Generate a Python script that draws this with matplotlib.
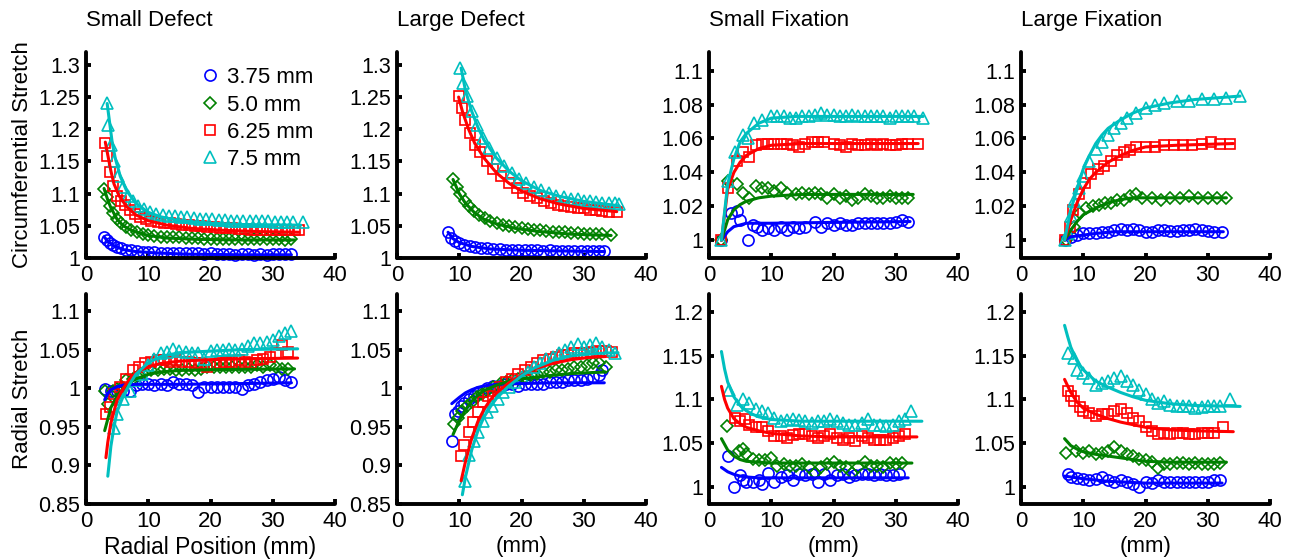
import matplotlib
matplotlib.use("Agg")
import matplotlib.pyplot as plt
from matplotlib.ticker import FuncFormatter

plt.rcParams['font.family'] = ['Liberation Sans', 'DejaVu Sans']

# ---------------- labels / styles ----------------
sizes = ["3.75 mm", "5.0 mm", "6.25 mm", "7.5 mm"]
titles = ["Small Defect", "Large Defect", "Small Fixation", "Large Fixation"]
colors = [(0, 0, 1), (0, 0.5, 0), (1, 0, 0), (0, 0.75, 0.75)]
markers = ['o', 'D', 's', '^']
msizes = [8.0, 6.3, 7.5, 8.0]

# ================= Small Defect, circumferential =================
sd_c_b_x = [2.9, 3.3, 3.8, 4.4, 5.0, 5.7, 6.5, 7.3, 8.2, 9.1, 10, 11, 12, 13, 14, 15, 16, 17, 18, 19, 20, 21, 22, 23, 24, 25, 26, 27, 28, 29, 30, 31, 32, 33]
sd_c_b_y = [1.033, 1.028, 1.024, 1.020, 1.017, 1.015, 1.013, 1.012, 1.011, 1.010, 1.009, 1.009, 1.008, 1.008, 1.008, 1.007, 1.008, 1.007, 1.007, 1.006, 1.007, 1.006, 1.006, 1.006, 1.005, 1.006, 1.006, 1.005, 1.006, 1.005, 1.006, 1.006, 1.006, 1.006]
sd_c_g_x = [2.9, 3.3, 3.8, 4.4, 5.0, 5.7, 6.5, 7.3, 8.2, 9.1, 10, 11, 12, 13, 14, 15, 16, 17, 18, 19, 20, 21, 22, 23, 24, 25, 26, 27, 28, 29, 30, 31, 32, 33]
sd_c_g_y = [1.107, 1.094, 1.081, 1.070, 1.061, 1.054, 1.048, 1.044, 1.040, 1.037, 1.035, 1.034, 1.033, 1.033, 1.032, 1.032, 1.031, 1.031, 1.031, 1.030, 1.030, 1.030, 1.030, 1.030, 1.029, 1.030, 1.029, 1.029, 1.029, 1.029, 1.029, 1.029, 1.028, 1.029]
sd_c_r_x = [3.1, 3.4, 3.8, 4.3, 5.0, 5.6, 6.2, 7, 7.8, 8.7, 9.6, 10.5, 11.5, 12.5, 13.5, 14.5, 15.5, 16.5, 17.5, 18.5, 19.5, 20.5, 21.5, 22.5, 23.5, 24.5, 25.5, 26.5, 27.5, 28.5, 29.5, 30.5, 31.5, 32.5, 33.5, 34.2]
sd_c_r_y = [1.179, 1.158, 1.133, 1.112, 1.097, 1.088, 1.082, 1.074, 1.068, 1.064, 1.061, 1.058, 1.056, 1.055, 1.054, 1.053, 1.052, 1.051, 1.050, 1.049, 1.048, 1.048, 1.047, 1.047, 1.046, 1.045, 1.045, 1.044, 1.044, 1.044, 1.043, 1.043, 1.043, 1.043, 1.043, 1.043]
sd_c_c_x = [3.4, 3.6, 4.0, 4.5, 5.2, 5.9, 6.7, 7.5, 8.4, 9.3, 10.3, 11.3, 12.3, 13.3, 14.3, 15.3, 16.3, 17.3, 18.3, 19.3, 20.3, 21.3, 22.3, 23.3, 24.3, 25.3, 26.3, 27.3, 28.3, 29.3, 30.3, 31.3, 32.3, 33.3, 34.8]
sd_c_c_y = [1.241, 1.207, 1.176, 1.151, 1.127, 1.110, 1.097, 1.088, 1.081, 1.076, 1.072, 1.069, 1.067, 1.066, 1.065, 1.064, 1.063, 1.062, 1.061, 1.060, 1.060, 1.059, 1.059, 1.058, 1.058, 1.058, 1.057, 1.057, 1.057, 1.057, 1.056, 1.056, 1.056, 1.056, 1.056]
sd_c_b_fx = [2.9, 3.5, 4.5, 6, 8, 11, 16, 25, 33]
sd_c_b_fy = [1.033, 1.026, 1.019, 1.013, 1.010, 1.008, 1.006, 1.005, 1.005]
sd_c_g_fx = [2.9, 3.5, 4, 5, 6, 7.5, 10, 13, 18, 25, 33.5]
sd_c_g_fy = [1.108, 1.090, 1.078, 1.060, 1.050, 1.042, 1.035, 1.031, 1.029, 1.028, 1.028]
sd_c_r_fx = [3.1, 3.6, 4, 4.5, 5.3, 6.5, 8, 10, 13, 17, 22, 28, 34.2]
sd_c_r_fy = [1.180, 1.155, 1.135, 1.115, 1.097, 1.080, 1.067, 1.058, 1.051, 1.046, 1.043, 1.041, 1.040]
sd_c_c_fx = [3.4, 3.8, 4.2, 4.7, 5.5, 6.5, 8, 10, 12, 15, 20, 25, 34.5]
sd_c_c_fy = [1.240, 1.210, 1.180, 1.155, 1.127, 1.105, 1.085, 1.071, 1.064, 1.058, 1.054, 1.052, 1.051]

# ================= Large Defect, circumferential =================
ld_c_b_x = [8.2, 8.7, 9.3, 10, 10.8, 11.7, 12.6, 13.5, 14.5, 15.5, 16.5, 17.5, 18.5, 19.5, 20.5, 21.5, 22.5, 23.5, 24.5, 25.5, 26.5, 27.5, 28.5, 29.5, 30.5, 31.5, 32.5, 33.3]
ld_c_b_y = [1.040, 1.031, 1.027, 1.023, 1.020, 1.018, 1.017, 1.016, 1.015, 1.014, 1.014, 1.013, 1.013, 1.012, 1.012, 1.012, 1.012, 1.011, 1.012, 1.011, 1.011, 1.011, 1.011, 1.011, 1.011, 1.011, 1.011, 1.011]
ld_c_g_x = [9.0, 9.6, 10.2, 10.9, 11.6, 12.4, 13.2, 14.1, 15, 16, 17, 18, 19, 20, 21, 22, 23, 24, 25, 26, 27, 28, 29, 30, 31, 32, 33, 34.4]
ld_c_g_y = [1.122, 1.110, 1.099, 1.089, 1.080, 1.073, 1.067, 1.062, 1.058, 1.055, 1.052, 1.050, 1.048, 1.047, 1.045, 1.044, 1.043, 1.042, 1.041, 1.040, 1.040, 1.039, 1.039, 1.038, 1.038, 1.037, 1.037, 1.035]
ld_c_r_x = [9.9, 10.4, 11, 11.8, 12.6, 13.4, 14.4, 15.5, 16.7, 18, 19.2, 20.3, 21.4, 22.5, 23.6, 24.7, 25.8, 26.9, 28, 29, 30, 31, 32, 33, 34, 35.3]
ld_c_r_y = [1.251, 1.233, 1.215, 1.194, 1.176, 1.164, 1.151, 1.138, 1.128, 1.117, 1.108, 1.101, 1.097, 1.093, 1.089, 1.086, 1.083, 1.081, 1.079, 1.078, 1.077, 1.075, 1.074, 1.073, 1.072, 1.071]
ld_c_c_x = [10.2, 10.6, 11.2, 12, 12.8, 13.8, 14.8, 16, 17.2, 18.4, 19.6, 20.8, 22, 23.2, 24.4, 25.6, 26.8, 28, 29, 30, 31, 32, 33, 34, 35, 35.7]
ld_c_c_y = [1.295, 1.272, 1.251, 1.228, 1.207, 1.187, 1.171, 1.156, 1.143, 1.132, 1.123, 1.116, 1.110, 1.105, 1.101, 1.097, 1.094, 1.092, 1.091, 1.089, 1.088, 1.087, 1.086, 1.085, 1.085, 1.084]
ld_c_b_fx = [8.2, 9, 10, 12, 15, 20, 26, 33.3]
ld_c_b_fy = [1.040, 1.030, 1.024, 1.018, 1.014, 1.012, 1.011, 1.010]
ld_c_g_fx = [9, 10, 11, 12.5, 14, 16, 19, 23, 28, 34.4]
ld_c_g_fy = [1.122, 1.100, 1.085, 1.070, 1.060, 1.053, 1.046, 1.041, 1.037, 1.035]
ld_c_r_fx = [9.9, 10.5, 11.5, 12.5, 14, 16, 18, 20, 23, 26, 30, 35.3]
ld_c_r_fy = [1.250, 1.228, 1.200, 1.178, 1.155, 1.132, 1.116, 1.104, 1.092, 1.084, 1.077, 1.072]
ld_c_c_fx = [10.3, 11, 12, 13, 14, 16, 18, 20, 23, 26, 30, 35.7]
ld_c_c_fy = [1.295, 1.260, 1.228, 1.203, 1.183, 1.155, 1.135, 1.120, 1.105, 1.096, 1.088, 1.081]

# ================= Small Fixation, circumferential =================
sf_c_b_x = [2, 3.5, 4.5, 5, 6.3, 7, 7.7, 8.5, 9.5, 10.5, 11.5, 12.5, 13.5, 14.5, 15.5, 17, 18, 19, 20, 21, 22, 23, 24, 25, 26, 27, 28, 29, 30, 31, 32]
sf_c_b_y = [1.000, 1.016, 1.017, 1.012, 1.000, 1.009, 1.008, 1.006, 1.007, 1.006, 1.008, 1.006, 1.008, 1.007, 1.008, 1.011, 1.008, 1.010, 1.009, 1.010, 1.009, 1.009, 1.010, 1.010, 1.010, 1.010, 1.010, 1.010, 1.011, 1.012, 1.011]
sf_c_g_x = [2, 3, 4.5, 5.5, 6.5, 7.5, 8.5, 9.5, 10.5, 11.5, 12.5, 14, 15, 16, 17, 18, 19, 20, 21, 22, 23, 24, 25, 26, 27, 28, 29, 30, 31, 32]
sf_c_g_y = [1.000, 1.035, 1.033, 1.028, 1.025, 1.032, 1.031, 1.031, 1.029, 1.031, 1.028, 1.027, 1.028, 1.027, 1.028, 1.027, 1.025, 1.027, 1.025, 1.026, 1.024, 1.025, 1.027, 1.026, 1.025, 1.025, 1.026, 1.025, 1.025, 1.025]
sf_c_r_x = [2, 3, 4.5, 5.5, 6.5, 7.5, 8.5, 9.5, 10.5, 11.5, 12.5, 13.5, 14.5, 15.5, 16.5, 17.5, 18.5, 20, 21, 22, 23, 24, 25, 26, 27, 28, 29, 30, 31, 32, 33.5]
sf_c_r_y = [1.000, 1.031, 1.047, 1.052, 1.049, 1.056, 1.057, 1.057, 1.057, 1.057, 1.057, 1.056, 1.055, 1.057, 1.058, 1.058, 1.058, 1.057, 1.056, 1.055, 1.057, 1.056, 1.056, 1.057, 1.056, 1.057, 1.056, 1.056, 1.057, 1.057, 1.057]
sf_c_c_x = [2, 3, 4.2, 5.5, 6.2, 7.3, 8.5, 10, 11, 12, 13, 14, 15, 16, 17, 18, 19, 20, 21, 22, 23, 24, 25, 26, 27, 28, 29, 30, 31, 32, 33, 34.4]
sf_c_c_y = [1.000, 1.035, 1.052, 1.062, 1.060, 1.069, 1.071, 1.073, 1.073, 1.073, 1.072, 1.072, 1.073, 1.073, 1.074, 1.075, 1.074, 1.074, 1.073, 1.073, 1.074, 1.073, 1.073, 1.073, 1.073, 1.073, 1.072, 1.073, 1.073, 1.073, 1.073, 1.072]
sf_c_b_fx = [2, 3, 4, 5, 6, 8, 10, 20, 32.3]
sf_c_b_fy = [1.000, 1.005, 1.008, 1.009, 1.010, 1.010, 1.010, 1.0105, 1.011]
sf_c_g_fx = [2, 3, 4, 5, 6, 8, 10, 15, 32.8]
sf_c_g_fy = [1.000, 1.012, 1.018, 1.021, 1.023, 1.025, 1.026, 1.027, 1.027]
sf_c_r_fx = [2, 3, 4, 5, 6, 8, 10, 15, 33.6]
sf_c_r_fy = [1.000, 1.030, 1.040, 1.046, 1.050, 1.054, 1.056, 1.057, 1.057]
sf_c_c_fx = [2, 3, 4, 5, 6, 8, 10, 14, 34.4]
sf_c_c_fy = [1.000, 1.033, 1.048, 1.058, 1.063, 1.069, 1.072, 1.073, 1.073]

# ================= Large Fixation, circumferential =================
lf_c_b_x = [7, 8, 9, 10, 11, 12, 13, 14, 15, 16, 17, 18, 19, 20, 21, 22, 23, 24, 25, 26, 27, 28, 29, 30, 31, 32.3]
lf_c_b_y = [1.000, 1.002, 1.003, 1.004, 1.004, 1.0045, 1.005, 1.005, 1.006, 1.0065, 1.006, 1.0065, 1.006, 1.005, 1.005, 1.006, 1.006, 1.0055, 1.0055, 1.006, 1.006, 1.0065, 1.006, 1.0055, 1.005, 1.005]
lf_c_g_x = [7.2, 8.5, 9.5, 10.5, 11.5, 12.5, 13.5, 14.5, 15.5, 16.5, 17.5, 18.5, 19.5, 21, 22.5, 24, 25.5, 27, 28.5, 30, 31.5, 33]
lf_c_g_y = [1.000, 1.008, 1.016, 1.019, 1.020, 1.021, 1.022, 1.022, 1.024, 1.024, 1.026, 1.027, 1.025, 1.025, 1.024, 1.025, 1.025, 1.026, 1.025, 1.025, 1.025, 1.025]
lf_c_r_x = [7, 7.8, 8.3, 9.3, 10.3, 11.3, 12.3, 13.3, 14.5, 15.5, 16.5, 17.5, 18.5, 20, 21.5, 23, 24.5, 26, 27.5, 29, 30.5, 32, 33.5]
lf_c_r_y = [1.000, 1.008, 1.018, 1.027, 1.034, 1.039, 1.042, 1.044, 1.047, 1.050, 1.052, 1.053, 1.055, 1.055, 1.055, 1.056, 1.056, 1.056, 1.056, 1.057, 1.058, 1.057, 1.057]
lf_c_c_x = [7, 7.5, 8, 8.5, 9.3, 10, 11, 12, 13, 14, 15, 16, 17, 18.5, 20, 21.5, 23, 25, 27, 29, 31, 33, 35.2]
lf_c_c_y = [1.000, 1.004, 1.014, 1.023, 1.031, 1.038, 1.047, 1.054, 1.058, 1.062, 1.066, 1.069, 1.072, 1.075, 1.078, 1.080, 1.081, 1.082, 1.082, 1.083, 1.083, 1.084, 1.085]
lf_c_b_fx = [7, 8, 10, 12, 15, 20, 32.5]
lf_c_b_fy = [1.000, 1.002, 1.003, 1.004, 1.005, 1.005, 1.005]
lf_c_g_fx = [7, 8, 9, 10, 12, 14, 16, 18, 20, 33]
lf_c_g_fy = [1.000, 1.006, 1.011, 1.015, 1.019, 1.022, 1.024, 1.025, 1.025, 1.025]
lf_c_r_fx = [7, 8, 9, 10, 11, 12, 14, 16, 18, 20, 25, 34.1]
lf_c_r_fy = [1.000, 1.012, 1.022, 1.030, 1.036, 1.040, 1.046, 1.050, 1.053, 1.055, 1.056, 1.057]
lf_c_c_fx = [7, 8, 9, 10, 11, 12, 13, 14, 16, 18, 20, 24, 28, 35.2]
lf_c_c_fy = [1.000, 1.018, 1.030, 1.042, 1.050, 1.057, 1.062, 1.066, 1.071, 1.075, 1.078, 1.081, 1.083, 1.085]

# ================= Small Defect, radial =================
sd_r_b_x = [3, 4, 5, 6, 7, 8, 9, 10, 11, 12, 13, 14, 15, 16, 17, 18, 19, 20, 21, 22, 23, 24, 25, 26, 27, 28, 29, 30, 31, 32, 33]
sd_r_b_y = [0.999, 0.997, 0.997, 0.997, 0.997, 1.004, 1.006, 1.005, 1.004, 1.005, 1.004, 1.008, 1.006, 1.005, 1.004, 0.995, 1.002, 1.001, 1.001, 1.002, 1.002, 1.001, 0.999, 1.004, 1.006, 1.008, 1.010, 1.012, 1.014, 1.010, 1.008]
sd_r_g_x = [3, 3.5, 4.3, 5, 5.8, 6.5, 7.5, 8.5, 9.5, 10.5, 11.5, 12.5, 13.5, 14.5, 15.5, 16.5, 17.5, 18.5, 19.5, 20.5, 21.5, 22.5, 23.5, 24.5, 25.5, 26.5, 27.5, 28.5, 29.5, 30.5, 31.5, 32.5]
sd_r_g_y = [0.997, 0.980, 0.997, 0.999, 1.001, 1.010, 1.012, 1.017, 1.021, 1.023, 1.024, 1.025, 1.025, 1.024, 1.024, 1.025, 1.024, 1.025, 1.027, 1.027, 1.027, 1.027, 1.027, 1.028, 1.027, 1.027, 1.030, 1.028, 1.030, 1.027, 1.025, 1.025]
sd_r_r_x = [3.2, 3.8, 4.5, 5.5, 6.5, 7.5, 8.5, 9.5, 10.5, 11.5, 12.5, 13.5, 14.5, 15.5, 16.5, 17.5, 18.5, 19.5, 20.5, 21.5, 22.5, 23.5, 24.5, 25.5, 26.5, 27.5, 28.5, 29.5, 30.5, 31.5, 32.5]
sd_r_r_y = [0.967, 0.975, 0.993, 1.001, 1.012, 1.023, 1.027, 1.032, 1.034, 1.036, 1.036, 1.034, 1.036, 1.034, 1.034, 1.033, 1.032, 1.027, 1.030, 1.032, 1.034, 1.034, 1.036, 1.034, 1.032, 1.036, 1.038, 1.041, 1.045, 1.056, 1.047]
sd_r_c_x = [4.5, 5, 6, 7, 8, 9, 10, 11, 12, 13, 14, 15, 16, 17, 18, 19, 20, 21, 22, 23, 24, 25, 26, 27, 28, 29, 30, 31, 32, 33]
sd_r_c_y = [0.949, 0.967, 0.986, 0.997, 1.010, 1.019, 1.030, 1.038, 1.045, 1.047, 1.051, 1.048, 1.047, 1.046, 1.045, 1.038, 1.048, 1.049, 1.050, 1.051, 1.049, 1.051, 1.054, 1.058, 1.058, 1.060, 1.062, 1.067, 1.071, 1.074]
sd_r_b_fx = [3, 3.5, 4, 5, 6, 8, 15, 25, 33]
sd_r_b_fy = [0.985, 0.993, 0.998, 1.002, 1.004, 1.005, 1.005, 1.006, 1.007]
sd_r_g_fx = [3, 3.5, 4, 5, 6, 7, 8, 10, 12, 15, 20, 33.5]
sd_r_g_fy = [0.945, 0.960, 0.975, 0.990, 1.000, 1.007, 1.012, 1.018, 1.021, 1.023, 1.024, 1.025]
sd_r_r_fx = [3.2, 3.5, 4, 5, 6, 7, 8, 10, 12, 15, 20, 25, 34]
sd_r_r_fy = [0.910, 0.930, 0.955, 0.985, 1.000, 1.012, 1.020, 1.028, 1.032, 1.035, 1.037, 1.038, 1.039]
sd_r_c_fx = [3.5, 4, 4.5, 5, 6, 7, 8, 10, 12, 15, 20, 25, 34]
sd_r_c_fy = [0.886, 0.925, 0.950, 0.970, 0.990, 1.005, 1.018, 1.033, 1.041, 1.046, 1.048, 1.050, 1.051]

# ================= Large Defect, radial =================
ld_r_b_x = [8.8, 9.3, 9.8, 10.3, 10.8, 11.5, 12.3, 13, 13.8, 14.5, 15.5, 16.5, 17.5, 18.5, 19.5, 20.5, 21.5, 22.5, 23.5, 24.5, 25.5, 26.5, 27.5, 28.5, 29.5, 30.5, 31.5, 32.5, 33]
ld_r_b_y = [0.932, 0.966, 0.971, 0.977, 0.981, 0.986, 0.990, 0.995, 0.997, 1.000, 1.003, 1.003, 1.005, 1.006, 1.003, 1.006, 1.006, 1.005, 1.006, 1.008, 1.008, 1.008, 1.010, 1.010, 1.011, 1.012, 1.014, 1.017, 1.023]
ld_r_g_x = [9.2, 9.8, 10.5, 11.2, 12, 12.8, 13.6, 14.5, 15.5, 16.5, 17.5, 18.5, 19.5, 20.5, 21.5, 22.5, 23.5, 24.5, 25.5, 26.5, 27.5, 28.5, 29.5, 30.5, 31.5, 32.5, 33.5]
ld_r_g_y = [0.953, 0.962, 0.971, 0.977, 0.982, 0.988, 0.993, 0.997, 1.001, 1.006, 1.008, 1.010, 1.012, 1.014, 1.017, 1.019, 1.021, 1.021, 1.023, 1.024, 1.025, 1.027, 1.028, 1.030, 1.032, 1.032, 1.027]
ld_r_r_x = [10.3, 10.8, 11.5, 12.2, 13, 13.8, 14.6, 15.5, 16.5, 17.5, 18.5, 19.5, 20.5, 21.5, 22.5, 23.5, 24.5, 25.5, 26.5, 27.5, 28.5, 29.5, 30.5, 31.5, 32.5, 33.5, 34.5]
ld_r_r_y = [0.912, 0.927, 0.943, 0.956, 0.969, 0.982, 0.990, 0.997, 1.001, 1.008, 1.012, 1.019, 1.023, 1.027, 1.032, 1.036, 1.038, 1.040, 1.043, 1.043, 1.045, 1.046, 1.046, 1.047, 1.048, 1.048, 1.047]
ld_r_c_x = [11, 11.5, 12.3, 13, 13.8, 14.5, 15.3, 16.2, 17, 18, 19, 20, 21, 22, 23, 24, 25, 26, 27, 28, 29, 30, 31, 32, 33, 34, 35]
ld_r_c_y = [0.880, 0.914, 0.932, 0.943, 0.958, 0.969, 0.977, 0.986, 0.995, 1.001, 1.008, 1.014, 1.021, 1.027, 1.032, 1.038, 1.041, 1.046, 1.049, 1.053, 1.057, 1.053, 1.056, 1.058, 1.053, 1.049, 1.045]
ld_r_b_fx = [8.8, 10, 11, 12, 13, 14, 16, 20, 25, 33.3]
ld_r_b_fy = [0.980, 0.988, 0.994, 0.998, 1.001, 1.003, 1.005, 1.006, 1.007, 1.007]
ld_r_g_fx = [9, 10, 11, 12, 13, 14, 16, 18, 20, 24, 28, 33.5]
ld_r_g_fy = [0.940, 0.958, 0.972, 0.983, 0.991, 0.997, 1.004, 1.009, 1.012, 1.016, 1.019, 1.021]
ld_r_r_fx = [10.3, 11, 12, 13, 14, 15, 16, 18, 20, 22, 25, 28, 31, 33.5]
ld_r_r_fy = [0.880, 0.905, 0.935, 0.957, 0.973, 0.985, 0.994, 1.007, 1.017, 1.025, 1.032, 1.037, 1.040, 1.041]
ld_r_c_fx = [10.5, 11, 12, 13, 14, 15, 16, 18, 20, 22, 25, 28, 32, 35.5]
ld_r_c_fy = [0.862, 0.885, 0.920, 0.945, 0.963, 0.976, 0.987, 1.003, 1.016, 1.026, 1.036, 1.042, 1.045, 1.046]

# ================= Small Fixation, radial =================
sf_r_b_x = [3, 4, 5, 5.5, 6, 7, 8, 8.5, 9.5, 10.5, 11.5, 12.5, 13.5, 14.5, 15.5, 16.5, 17.5, 18.5, 19.5, 20.5, 21.5, 22.5, 23.5, 24.5, 25.5, 26.5, 27.5, 28.5, 29.5, 30.5]
sf_r_b_y = [1.035, 0.999, 1.013, 1.007, 1.005, 1.005, 1.007, 1.003, 1.016, 1.005, 1.011, 1.013, 1.007, 1.014, 1.013, 1.014, 1.005, 1.014, 1.007, 1.013, 1.014, 1.011, 1.013, 1.014, 1.014, 1.013, 1.014, 1.013, 1.013, 1.014]
sf_r_g_x = [2.9, 4.8, 5.5, 6, 7, 8, 9, 10, 11, 12, 13, 14, 15, 16, 17, 18, 19, 20, 21, 22, 23, 24, 25, 26, 27, 28, 29, 30, 31]
sf_r_g_y = [1.070, 1.041, 1.043, 1.037, 1.032, 1.030, 1.030, 1.033, 1.024, 1.026, 1.024, 1.024, 1.026, 1.022, 1.016, 1.022, 1.026, 1.028, 1.024, 1.022, 1.016, 1.022, 1.028, 1.024, 1.024, 1.022, 1.027, 1.026, 1.027]
sf_r_r_x = [4.2, 5, 5.8, 6.5, 7.5, 8.5, 9.5, 10.5, 11.5, 12.5, 13.5, 14.5, 15.5, 16.5, 17.5, 18.5, 19.5, 20.5, 21.5, 22.5, 23.5, 24.5, 25.5, 26.5, 27.5, 28.5, 29.5, 30.5, 31.5]
sf_r_r_y = [1.079, 1.075, 1.077, 1.071, 1.068, 1.068, 1.064, 1.058, 1.058, 1.056, 1.059, 1.060, 1.060, 1.058, 1.056, 1.058, 1.060, 1.056, 1.054, 1.056, 1.052, 1.058, 1.056, 1.053, 1.053, 1.054, 1.056, 1.058, 1.060]
sf_r_c_x = [3.2, 4.5, 5.5, 6.5, 7.5, 8.5, 9.5, 10.5, 11.5, 12.5, 13.5, 14.5, 15.5, 16.5, 17.5, 18.5, 19.5, 20.5, 21.5, 22.5, 23.5, 24.5, 25.5, 26.5, 27.5, 28.5, 29.5, 30.5, 31.5, 32.4]
sf_r_c_y = [1.111, 1.094, 1.100, 1.096, 1.089, 1.087, 1.085, 1.079, 1.075, 1.076, 1.077, 1.076, 1.075, 1.073, 1.075, 1.075, 1.077, 1.075, 1.073, 1.071, 1.071, 1.073, 1.077, 1.071, 1.071, 1.070, 1.071, 1.075, 1.077, 1.087]
sf_r_b_fx = [2, 3, 4, 5, 6, 8, 15, 32]
sf_r_b_fy = [1.022, 1.017, 1.014, 1.012, 1.011, 1.010, 1.010, 1.010]
sf_r_g_fx = [2, 3, 4, 5, 6, 8, 10, 20, 32.6]
sf_r_g_fy = [1.055, 1.042, 1.035, 1.031, 1.029, 1.028, 1.027, 1.027, 1.027]
sf_r_r_fx = [2, 2.5, 3, 4, 5, 6, 8, 10, 15, 20, 33.4]
sf_r_r_fy = [1.115, 1.100, 1.090, 1.078, 1.072, 1.068, 1.064, 1.061, 1.058, 1.057, 1.057]
sf_r_c_fx = [2, 2.5, 3, 4, 5, 6, 7, 8, 10, 15, 20, 34.2]
sf_r_c_fy = [1.155, 1.135, 1.120, 1.103, 1.093, 1.087, 1.083, 1.080, 1.077, 1.075, 1.075, 1.075]

# ================= Large Fixation, radial =================
lf_r_b_x = [7.5, 8, 9, 10, 11, 12, 13, 14, 15, 16, 17, 18, 19, 20, 21, 22, 23, 24, 25, 26, 27, 28, 29, 30, 31, 32]
lf_r_b_y = [1.015, 1.011, 1.010, 1.009, 1.008, 1.009, 1.011, 1.007, 1.005, 1.007, 1.005, 1.003, 0.999, 1.005, 1.004, 1.007, 1.005, 1.005, 1.005, 1.005, 1.005, 1.005, 1.005, 1.005, 1.007, 1.007]
lf_r_g_x = [7.3, 8.9, 10, 11, 12, 13, 14, 15, 16, 17, 18, 19, 20, 21, 22, 23, 24, 25, 26, 27, 28, 29, 30, 31, 32]
lf_r_g_y = [1.038, 1.041, 1.039, 1.041, 1.037, 1.039, 1.041, 1.045, 1.041, 1.037, 1.035, 1.032, 1.030, 1.028, 1.021, 1.026, 1.026, 1.027, 1.027, 1.026, 1.027, 1.026, 1.026, 1.026, 1.027]
lf_r_r_x = [7.5, 8, 8.5, 9.5, 10, 11, 12, 13, 14, 15, 16, 17, 18, 19, 20, 21, 22, 23, 24, 25, 26, 27, 28, 29, 30, 31, 32.5]
lf_r_r_y = [1.110, 1.104, 1.098, 1.091, 1.087, 1.085, 1.081, 1.083, 1.083, 1.087, 1.089, 1.085, 1.079, 1.075, 1.068, 1.064, 1.060, 1.062, 1.060, 1.061, 1.061, 1.060, 1.060, 1.061, 1.062, 1.062, 1.068]
lf_r_c_x = [7.5, 8.5, 9, 10, 11, 12, 13, 14, 15, 16, 17, 18, 19, 20, 21, 22, 23, 24, 25, 26, 27, 28, 29, 30, 31, 32, 33.5]
lf_r_c_y = [1.153, 1.148, 1.134, 1.130, 1.125, 1.117, 1.119, 1.121, 1.125, 1.127, 1.121, 1.117, 1.111, 1.106, 1.100, 1.096, 1.098, 1.094, 1.092, 1.092, 1.092, 1.090, 1.091, 1.093, 1.093, 1.093, 1.100]
lf_r_b_fx = [7, 10, 14, 20, 32.3]
lf_r_b_fy = [1.012, 1.009, 1.006, 1.004, 1.004]
lf_r_g_fx = [7, 8, 9, 10, 12, 14, 16, 18, 20, 24, 33]
lf_r_g_fy = [1.055, 1.047, 1.043, 1.040, 1.037, 1.035, 1.033, 1.031, 1.029, 1.028, 1.028]
lf_r_r_fx = [7, 8, 9, 10, 12, 14, 16, 18, 20, 24, 28, 34.1]
lf_r_r_fy = [1.123, 1.108, 1.097, 1.090, 1.083, 1.078, 1.074, 1.071, 1.068, 1.065, 1.064, 1.063]
lf_r_c_fx = [7, 7.5, 8, 9, 10, 12, 14, 16, 18, 20, 24, 28, 35.2]
lf_r_c_fy = [1.185, 1.172, 1.160, 1.144, 1.134, 1.121, 1.114, 1.108, 1.103, 1.099, 1.095, 1.093, 1.092]

# axis settings per row
circ_ticks_defect = [1, 1.05, 1.1, 1.15, 1.2, 1.25, 1.3]
circ_ticks_fix = [1, 1.02, 1.04, 1.06, 1.08, 1.1]
rad_ticks_defect = [0.85, 0.9, 0.95, 1, 1.05, 1.1]
rad_ticks_fix = [1, 1.05, 1.1, 1.15, 1.2]
x_ticks = [0, 10, 20, 30, 40]

panels = [
    [(sd_c_b_x, sd_c_b_y, sd_c_b_fx, sd_c_b_fy), (sd_c_g_x, sd_c_g_y, sd_c_g_fx, sd_c_g_fy),
     (sd_c_r_x, sd_c_r_y, sd_c_r_fx, sd_c_r_fy), (sd_c_c_x, sd_c_c_y, sd_c_c_fx, sd_c_c_fy)],
    [(ld_c_b_x, ld_c_b_y, ld_c_b_fx, ld_c_b_fy), (ld_c_g_x, ld_c_g_y, ld_c_g_fx, ld_c_g_fy),
     (ld_c_r_x, ld_c_r_y, ld_c_r_fx, ld_c_r_fy), (ld_c_c_x, ld_c_c_y, ld_c_c_fx, ld_c_c_fy)],
    [(sf_c_b_x, sf_c_b_y, sf_c_b_fx, sf_c_b_fy), (sf_c_g_x, sf_c_g_y, sf_c_g_fx, sf_c_g_fy),
     (sf_c_r_x, sf_c_r_y, sf_c_r_fx, sf_c_r_fy), (sf_c_c_x, sf_c_c_y, sf_c_c_fx, sf_c_c_fy)],
    [(lf_c_b_x, lf_c_b_y, lf_c_b_fx, lf_c_b_fy), (lf_c_g_x, lf_c_g_y, lf_c_g_fx, lf_c_g_fy),
     (lf_c_r_x, lf_c_r_y, lf_c_r_fx, lf_c_r_fy), (lf_c_c_x, lf_c_c_y, lf_c_c_fx, lf_c_c_fy)],
    [(sd_r_b_x, sd_r_b_y, sd_r_b_fx, sd_r_b_fy), (sd_r_g_x, sd_r_g_y, sd_r_g_fx, sd_r_g_fy),
     (sd_r_r_x, sd_r_r_y, sd_r_r_fx, sd_r_r_fy), (sd_r_c_x, sd_r_c_y, sd_r_c_fx, sd_r_c_fy)],
    [(ld_r_b_x, ld_r_b_y, ld_r_b_fx, ld_r_b_fy), (ld_r_g_x, ld_r_g_y, ld_r_g_fx, ld_r_g_fy),
     (ld_r_r_x, ld_r_r_y, ld_r_r_fx, ld_r_r_fy), (ld_r_c_x, ld_r_c_y, ld_r_c_fx, ld_r_c_fy)],
    [(sf_r_b_x, sf_r_b_y, sf_r_b_fx, sf_r_b_fy), (sf_r_g_x, sf_r_g_y, sf_r_g_fx, sf_r_g_fy),
     (sf_r_r_x, sf_r_r_y, sf_r_r_fx, sf_r_r_fy), (sf_r_c_x, sf_r_c_y, sf_r_c_fx, sf_r_c_fy)],
    [(lf_r_b_x, lf_r_b_y, lf_r_b_fx, lf_r_b_fy), (lf_r_g_x, lf_r_g_y, lf_r_g_fx, lf_r_g_fy),
     (lf_r_r_x, lf_r_r_y, lf_r_r_fx, lf_r_r_fy), (lf_r_c_x, lf_r_c_y, lf_r_c_fx, lf_r_c_fy)],
]
yticks = [circ_ticks_defect, circ_ticks_defect, circ_ticks_fix, circ_ticks_fix,
          rad_ticks_defect, rad_ticks_defect, rad_ticks_fix, rad_ticks_fix]
ylims = [(1.0, 1.32), (1.0, 1.32), (0.9895, 1.111), (0.9895, 1.111),
         (0.85, 1.122), (0.85, 1.122), (0.98, 1.221), (0.98, 1.221)]

fig = plt.figure(figsize=(12.89, 5.6), dpi=100)
lefts = [86, 397, 709, 1021]
axes = []
for i in range(8):
    col = i % 4
    if i < 4:
        rect = [lefts[col] / 1289, 1 - 258 / 560, 249 / 1289, 206 / 560]
    else:
        rect = [lefts[col] / 1289, 1 - 504 / 560, 249 / 1289, 210 / 560]
    ax = fig.add_axes(rect)
    axes.append(ax)

fmt = FuncFormatter(lambda v, p: '%g' % v)

for i, ax in enumerate(axes):
    handles = []
    for k, (x, y, fx, fy) in enumerate(panels[i]):
        h, = ax.plot(x, y, linestyle='none', marker=markers[k], markersize=msizes[k],
                     markerfacecolor='none', markeredgecolor=colors[k],
                     markeredgewidth=1.2, clip_on=False)
        handles.append(h)
    for k, (x, y, fx, fy) in enumerate(panels[i]):
        ax.plot(fx, fy, color=colors[k], linewidth=2.2, solid_capstyle='round')

    ax.set_xlim(0, 40)
    ax.set_xticks(x_ticks)
    ax.set_ylim(*ylims[i])
    ax.set_yticks(yticks[i])
    ax.yaxis.set_major_formatter(fmt)
    for s in ['top', 'right']:
        ax.spines[s].set_visible(False)
    for s in ['left', 'bottom']:
        ax.spines[s].set_linewidth(2.8)
        ax.spines[s].set_capstyle('round')
    ax.tick_params(direction='in', length=3.5, width=2.8)
    ax.tick_params(axis='x', pad=5, labelsize=16)
    ax.tick_params(axis='y', pad=4, labelsize=15.5)

    if i < 4:
        ax.set_title(titles[i], loc='left', fontsize=16, pad=19)
    else:
        ax.set_xlabel("Radial Position (mm)" if i == 4 else "(mm)",
                      fontsize=16.5 if i == 4 else 16, labelpad=3)

    if i == 0:
        ax.set_ylabel("Circumferential Stretch", fontsize=16)
        ax.yaxis.set_label_coords(-0.214, 0.5)
        ax.legend(handles, sizes, loc='upper left', bbox_to_anchor=(0.452, 0.926),
                  frameon=False, fontsize=16, handletextpad=0.3, labelspacing=0.285,
                  handlelength=1.0, borderaxespad=0, borderpad=0)
    if i == 4:
        ax.set_ylabel("Radial Stretch", fontsize=16)
        ax.yaxis.set_label_coords(-0.214, 0.5)

fig.savefig("out.png", dpi=100)
